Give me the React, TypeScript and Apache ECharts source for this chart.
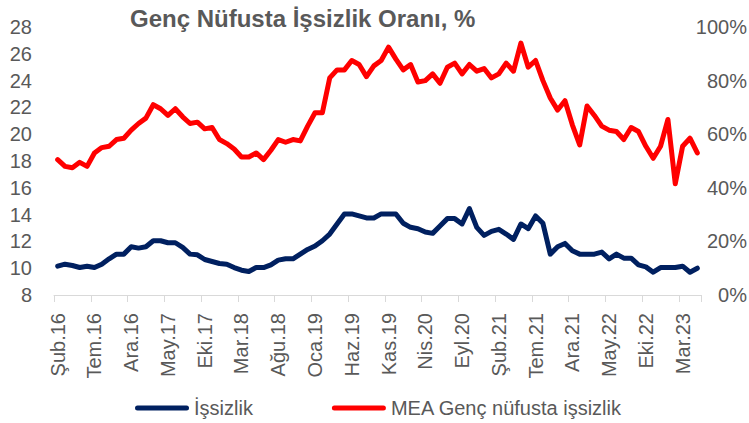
import React, { useEffect, useRef } from "react";
import * as echarts from "echarts";

const MONTHS = ["Oca", "Şub", "Mar", "Nis", "May", "Haz", "Tem", "Ağu", "Eyl", "Eki", "Kas", "Ara"];
const START_YEAR = 2016;
const START_MONTH_INDEX = 1; // Şubat
const MONTH_COUNT = 88;

const categories: string[] = [];
for (let k = 0; k < MONTH_COUNT; k++) {
  const t = START_MONTH_INDEX + k;
  const y = START_YEAR + Math.floor(t / 12);
  categories.push(`${MONTHS[t % 12]}.${String(y).slice(2)}`);
}

// İşsizlik (left axis)
const issizlik = [
  10.15, 10.3, 10.2, 10.05, 10.15, 10.05, 10.3, 10.7, 11.05, 11.05,
  11.6, 11.5, 11.6, 12.05, 12.05, 11.9, 11.9, 11.55, 11.05, 11.0,
  10.65, 10.5, 10.35, 10.3, 10.05, 9.85, 9.75, 10.05, 10.05, 10.25,
  10.6, 10.7, 10.7, 11.05, 11.4, 11.65, 12.05, 12.55, 13.3, 14.05,
  14.05, 13.9, 13.75, 13.75, 14.05, 14.05, 14.05, 13.35, 13.05, 12.95,
  12.7, 12.6, 13.15, 13.7, 13.7, 13.3, 14.45, 13.05, 12.45, 12.75,
  12.9, 12.55, 12.15, 13.3, 12.95, 13.9, 13.35, 11.05, 11.6, 11.85,
  11.3, 11.05, 11.05, 11.05, 11.2, 10.7, 11.05, 10.75, 10.75, 10.25,
  10.1, 9.7, 10.05, 10.05, 10.05, 10.15, 9.7, 10.0,
];

// MEA Genç nüfusta işsizlik (left axis)
const gencIssizlik = [
  18.1, 17.6, 17.5, 17.9, 17.6, 18.6, 19.0, 19.1, 19.6, 19.7,
  20.3, 20.8, 21.2, 22.2, 21.9, 21.4, 21.9, 21.3, 20.8, 20.9,
  20.4, 20.5, 19.6, 19.3, 18.9, 18.3, 18.3, 18.6, 18.1, 18.8,
  19.6, 19.4, 19.6, 19.5, 20.6, 21.6, 21.6, 24.2, 24.8, 24.8,
  25.5, 25.2, 24.3, 25.1, 25.5, 26.5, 25.6, 24.8, 25.2, 23.9,
  24.0, 24.5, 23.8, 25.0, 25.3, 24.5, 25.2, 24.7, 24.9, 24.2,
  24.5, 25.3, 24.7, 26.8, 25.0, 25.5, 24.0, 22.7, 21.8, 22.5,
  20.7, 19.2, 22.1, 21.4, 20.6, 20.3, 20.2, 19.6, 20.5, 20.2,
  19.1, 18.2, 19.1, 21.1, 16.3, 19.1, 19.7, 18.6,
];

const LEFT_MIN = 8;
const LEFT_MAX = 28;
const LEFT_STEP = 2;
const RIGHT_MIN = 0;
const RIGHT_MAX = 100;
const RIGHT_STEP = 20;

const TITLE = "Genç Nüfusta İşsizlik Oranı, %";
const SERIES_NAMES = ["İşsizlik", "MEA Genç nüfusta işsizlik"];

const FONT = "'Liberation Sans', Arial, sans-serif";
const GREY = "#595959";

export default function App() {
  const ref = useRef<HTMLDivElement>(null);
  useEffect(() => {
    if (!ref.current) return;
    const chart = echarts.init(ref.current, undefined, { renderer: "svg" });
    const capsule = "path://M2.5,0 L51.5,0 A2.5,2.5 0 0 1 51.5,5 L2.5,5 A2.5,2.5 0 0 1 2.5,0 Z";
    chart.setOption({
      animation: false,
      backgroundColor: "#ffffff",
      textStyle: { fontFamily: FONT },
      title: {
        text: TITLE,
        left: 130,
        top: 6,
        padding: 0,
        textStyle: { fontFamily: FONT, fontSize: 24, fontWeight: "bold", color: GREY },
      },
      legend: {
        left: 135,
        top: 398,
        itemWidth: 54,
        itemHeight: 5,
        itemGap: 79,
        padding: 0,
        textStyle: { fontFamily: FONT, fontSize: 20, color: GREY },
        data: [
          { name: SERIES_NAMES[0], icon: capsule },
          { name: SERIES_NAMES[1], icon: capsule },
        ],
      },
      grid: { left: 54, right: 48, top: 27, bottom: 128, containLabel: false, outerBoundsMode: "none" },
      xAxis: {
        type: "category",
        data: categories,
        boundaryGap: true,
        axisLine: { show: true, lineStyle: { color: "#d9d9d9", width: 1 } },
        axisTick: { show: true, interval: 4, length: 7, lineStyle: { color: "#d9d9d9" } },
        axisLabel: {
          interval: 4,
          rotate: 90,
          margin: 18,
          color: GREY,
          fontFamily: FONT,
          fontSize: 20,
        },
        splitLine: { show: false },
      },
      yAxis: [
        {
          type: "value",
          min: LEFT_MIN,
          max: LEFT_MAX,
          interval: LEFT_STEP,
          axisLine: { show: false },
          axisTick: { show: false },
          splitLine: { show: false },
          axisLabel: { color: GREY, fontFamily: FONT, fontSize: 20, margin: 22 },
        },
        {
          type: "value",
          position: "right",
          min: RIGHT_MIN,
          max: RIGHT_MAX,
          interval: RIGHT_STEP,
          axisLine: { show: false },
          axisTick: { show: false },
          splitLine: { show: false },
          axisLabel: {
            color: GREY,
            fontFamily: FONT,
            fontSize: 20,
            align: "right",
            margin: 46,
            formatter: "{value}%",
          },
        },
      ],
      series: [
        {
          name: SERIES_NAMES[0],
          type: "line",
          yAxisIndex: 0,
          data: issizlik,
          symbol: "none",
          color: "#002060",
          lineStyle: { color: "#002060", width: 5, cap: "round", join: "round" },
          z: 3,
        },
        {
          name: SERIES_NAMES[1],
          type: "line",
          yAxisIndex: 0,
          data: gencIssizlik,
          symbol: "none",
          color: "#ff0000",
          lineStyle: { color: "#ff0000", width: 5, cap: "round", join: "round" },
          z: 2,
        },
      ],
    });
    return () => chart.dispose();
  }, []);
  return (
    <div
      ref={ref}
      style={{ position: "absolute", left: 0, top: 0, width: 749, height: 423, background: "#fff" }}
    />
  );
}
